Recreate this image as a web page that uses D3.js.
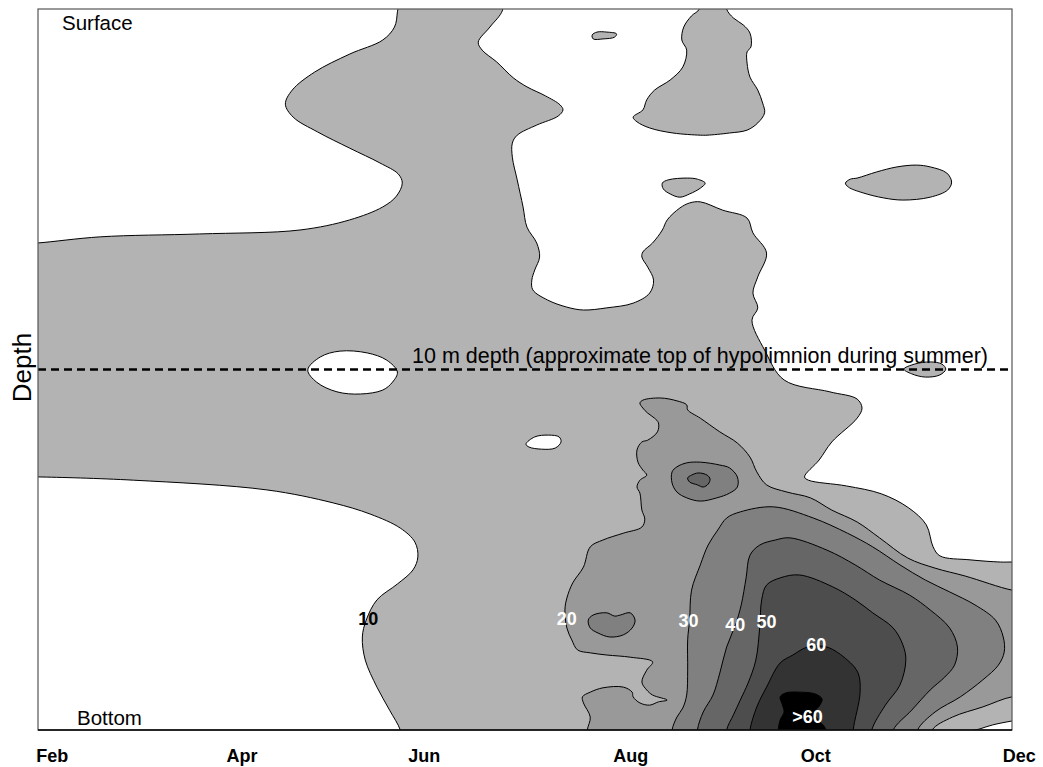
<!DOCTYPE html>
<html>
<head>
<meta charset="utf-8">
<script src="https://cdn.jsdelivr.net/npm/d3@7"></script>
<style>
  body { margin: 0; background: #fff; }
  svg { display: block; }
  text { font-family: "Liberation Sans", Arial, Helvetica, sans-serif; }
</style>
</head>
<body>
<svg id="chart" width="1043" height="767"></svg>
<script>
// ---- axes: time in months (Feb = 2 ... Dec = 12), depth as 0 (surface) to 20 (bottom) ----
const monthExtent = [2, 12];
const depthExtent = [0, 20];
const tickLabels = ["Feb", "Apr", "Jun", "Aug", "Oct", "Dec"];
const tickMonths = [2.14, 4.09, 5.96, 8.08, 9.98, 12.07];
const hypolimnionDepth = 10;

// ---- contour levels ----
const levelKeys = [0, 10, 20, 30, 40, 50, 60, 70];

// ---- contour rings, [month, depth] ----
// values below 10
const low_surfaceSpring = [[5.70,-0.5],[5.69,0.08],[5.66,0.5],[5.54,0.86],[5.20,1.25],[4.84,1.75],[4.61,2.25],[4.54,2.64],[4.62,3.0],[4.87,3.41],[5.20,3.86],[5.51,4.27],[5.70,4.58],[5.74,4.83],[5.68,5.19],[5.54,5.49],[5.20,5.85],[4.69,6.13],[3.66,6.24],[2.64,6.32],[2.0,6.49],[1.79,6.52],[1.79,-0.5]];
const low_surfaceSummer = [[6.77,-0.5],[6.77,0.03],[6.64,0.50],[6.52,0.92],[6.56,1.14],[6.71,1.47],[6.88,1.91],[7.02,2.16],[7.21,2.41],[7.36,2.66],[7.39,2.80],[7.34,2.97],[7.12,3.22],[6.92,3.50],[6.87,3.72],[6.87,4.11],[6.92,4.74],[6.98,5.49],[7.02,6.05],[7.12,6.49],[7.15,6.88],[7.10,7.24],[7.07,7.52],[7.08,7.79],[7.23,8.07],[7.43,8.27],[7.60,8.35],[7.84,8.29],[8.11,8.16],[8.28,7.88],[8.32,7.52],[8.26,7.16],[8.20,6.88],[8.21,6.74],[8.31,6.49],[8.41,6.13],[8.46,5.85],[8.59,5.52],[8.69,5.38],[8.80,5.35],[9.03,5.58],[9.28,5.80],[9.34,6.21],[9.48,6.77],[9.39,7.43],[9.34,7.88],[9.39,8.29],[9.33,8.63],[9.46,9.46],[9.66,10.29],[10.13,10.62],[10.41,10.82],[10.46,11.07],[10.41,11.35],[10.15,12.01],[10.02,12.51],[9.87,12.98],[9.91,13.07],[10.30,13.23],[10.66,13.45],[10.94,13.84],[11.12,14.31],[11.19,14.92],[11.26,15.17],[11.57,15.28],[11.88,15.34],[12.0,15.34],[12.19,15.34],[12.19,-0.5],[9.07,-0.5],[9.07,0],[9.14,0.25],[9.24,0.44],[9.31,0.67],[9.32,1.05],[9.28,1.19],[9.28,1.50],[9.31,1.89],[9.39,2.25],[9.44,2.61],[9.46,2.88],[9.39,3.16],[9.28,3.36],[9.10,3.44],[8.87,3.50],[8.80,3.50],[8.52,3.44],[8.28,3.30],[8.15,3.13],[8.11,3.00],[8.21,2.80],[8.25,2.52],[8.33,2.25],[8.49,1.97],[8.62,1.61],[8.66,1.14],[8.61,0.86],[8.63,0.50],[8.71,0.19],[8.79,0],[8.79,-0.5]];
const low_bottomSpring = [[1.79,12.98],[2.0,12.98],[2.98,13.07],[4.35,13.34],[5.03,13.70],[5.41,14.01],[5.72,14.40],[5.87,14.79],[5.90,15.20],[5.85,15.56],[5.69,15.95],[5.48,16.39],[5.37,16.95],[5.33,17.42],[5.36,18.06],[5.48,18.81],[5.61,19.45],[5.72,20.0],[5.75,20.42],[1.79,20.42]];
const low_pocketMay = [[4.77,10.01],[4.90,9.65],[5.10,9.49],[5.38,9.54],[5.58,9.74],[5.69,10.07],[5.64,10.35],[5.54,10.57],[5.31,10.68],[5.07,10.62],[4.86,10.35]];
const low_pocketJuly = [[7.01,12.07],[7.10,11.87],[7.24,11.82],[7.35,11.87],[7.37,12.01],[7.31,12.18],[7.17,12.21],[7.04,12.15]];
const low_cornerDec = [[11.57,20.06],[11.67,19.97],[11.80,19.86],[12.0,19.75],[12.19,19.67],[12.19,20.42],[11.57,20.42]];

// patches of 10+ inside the low areas
const p10_surfaceJuly = [[7.69,0.72],[7.74,0.64],[7.84,0.64],[7.94,0.69],[7.92,0.78],[7.80,0.83],[7.70,0.83]];
const p10_aug = [[8.41,4.83],[8.47,4.74],[8.67,4.69],[8.77,4.72],[8.85,4.83],[8.80,4.97],[8.69,5.13],[8.59,5.22],[8.49,5.13],[8.42,4.99]];
const p10_nov = [[10.29,4.83],[10.34,4.72],[10.41,4.69],[10.61,4.52],[10.82,4.38],[11.02,4.33],[11.16,4.38],[11.33,4.55],[11.38,4.80],[11.34,5.02],[11.16,5.22],[10.88,5.30],[10.68,5.24],[10.47,5.10],[10.32,4.94]];
const p10_novDeep = [[10.89,9.99],[11.00,9.85],[11.16,9.79],[11.28,9.85],[11.32,9.99],[11.26,10.15],[11.11,10.21],[10.97,10.12]];

// 20 and above
const band20 = [[7.64,20.42],[7.64,20.0],[7.67,19.64],[7.60,19.25],[7.59,19.08],[7.67,18.95],[7.80,18.83],[8.01,18.81],[8.10,18.95],[8.11,19.08],[8.18,19.25],[8.28,19.31],[8.37,19.22],[8.46,19.17],[8.31,19.03],[8.25,18.89],[8.20,18.67],[8.25,18.34],[8.31,18.11],[8.08,17.98],[7.84,17.92],[7.67,17.86],[7.54,17.78],[7.48,17.50],[7.43,17.17],[7.41,16.67],[7.43,16.34],[7.49,15.92],[7.60,15.48],[7.67,14.92],[7.80,14.73],[8.01,14.54],[8.20,14.37],[8.23,14.15],[8.20,13.90],[8.18,13.43],[8.15,13.26],[8.18,13.07],[8.25,12.93],[8.21,12.79],[8.16,12.57],[8.15,12.23],[8.20,12.01],[8.26,11.96],[8.36,11.73],[8.37,11.48],[8.33,11.35],[8.26,11.21],[8.21,11.07],[8.18,10.93],[8.21,10.85],[8.39,10.79],[8.56,10.87],[8.66,10.98],[8.67,11.12],[8.80,11.35],[9.00,11.73],[9.18,12.04],[9.31,12.43],[9.38,12.84],[9.48,13.20],[9.69,13.40],[9.93,13.56],[10.15,13.90],[10.41,14.23],[10.64,14.67],[10.93,15.23],[11.21,15.51],[11.52,15.73],[12.0,16.12],[12.19,16.17],[12.19,19.08],[12.0,19.08],[11.70,19.36],[11.39,19.64],[11.18,20.0],[11.16,20.42]];
const core30 = [[8.51,20.42],[8.51,20.0],[8.56,19.64],[8.62,19.39],[8.66,19.03],[8.67,18.34],[8.67,17.50],[8.69,16.95],[8.71,16.12],[8.80,15.42],[8.88,14.87],[8.98,14.45],[9.07,14.12],[9.21,13.95],[9.55,13.81],[9.96,14.12],[10.31,14.54],[10.57,14.92],[10.85,15.42],[11.11,15.84],[11.36,16.17],[11.62,16.53],[11.83,16.95],[11.91,17.42],[11.92,17.84],[11.86,18.20],[11.70,18.61],[11.47,19.08],[11.21,19.50],[11.03,20.0],[11.01,20.42]];
const patch30_jul = [[7.65,16.95],[7.70,16.81],[7.84,16.75],[7.92,16.84],[7.98,16.81],[8.08,16.75],[8.13,16.95],[8.10,17.17],[8.01,17.36],[7.87,17.42],[7.75,17.31],[7.67,17.17]];
const patch30_aug = [[8.51,12.84],[8.56,12.70],[8.66,12.59],[8.80,12.57],[9.00,12.65],[9.10,12.73],[9.18,12.98],[9.18,13.26],[9.10,13.43],[8.97,13.56],[8.80,13.65],[8.66,13.56],[8.56,13.40],[8.51,13.15]];
const core40 = [[8.77,20.42],[8.77,20.0],[8.83,19.50],[8.93,19.03],[9.00,18.42],[9.07,17.70],[9.16,17.09],[9.22,16.53],[9.27,15.78],[9.31,15.15],[9.41,14.87],[9.57,14.73],[9.72,14.67],[10.10,15.01],[10.39,15.42],[10.64,15.84],[10.95,16.26],[11.16,16.67],[11.36,17.17],[11.44,17.70],[11.41,18.20],[11.31,18.53],[11.16,18.89],[10.97,19.45],[10.78,20.0],[10.76,20.42]];
const patch40_aug = [[8.67,13.01],[8.71,12.93],[8.78,12.87],[8.87,12.93],[8.90,13.04],[8.88,13.18],[8.83,13.26],[8.77,13.20],[8.69,13.12]];
const core50 = [[9.07,20.42],[9.07,20.0],[9.14,19.58],[9.21,19.17],[9.29,18.70],[9.37,18.06],[9.41,17.14],[9.43,16.39],[9.48,15.98],[9.62,15.78],[9.82,15.70],[10.16,16.03],[10.39,16.39],[10.57,16.75],[10.78,17.17],[10.88,17.64],[10.91,18.06],[10.85,18.75],[10.70,19.31],[10.56,20.0],[10.55,20.42]];
const core60 = [[9.31,20.42],[9.31,20.0],[9.38,19.36],[9.48,18.81],[9.62,18.14],[9.75,17.92],[9.90,17.70],[10.10,17.70],[10.31,18.06],[10.42,18.42],[10.44,18.97],[10.37,20.0],[10.37,20.42]];
const corePeak = [[9.60,20.42],[9.60,20.0],[9.62,19.72],[9.66,19.50],[9.64,19.28],[9.62,19.08],[9.68,18.97],[9.82,18.95],[9.98,19.00],[10.05,19.14],[10.02,19.34],[9.97,19.50],[10.01,19.72],[10.08,19.94],[10.09,20.42]];

// contour labels
const labelText  = ["10", "20", "30", "40", "50", "60", ">60"];
const labelLevel = [10, 20, 30, 40, 50, 60, 70];
const labelMonth = [5.39, 7.43, 8.68, 9.16, 9.48, 9.99, 9.90];
const labelDepth = [16.92, 16.92, 16.98, 17.09, 17.01, 17.64, 19.64];

// drawing order: lowest values first, then each higher band on top
const layers = [
  { level: 0, ring: low_surfaceSpring },
  { level: 0, ring: low_surfaceSummer },
  { level: 0, ring: low_bottomSpring },
  { level: 0, ring: low_pocketMay },
  { level: 0, ring: low_pocketJuly },
  { level: 0, ring: low_cornerDec },
  { level: 10, ring: p10_surfaceJuly },
  { level: 10, ring: p10_aug },
  { level: 10, ring: p10_nov },
  { level: 10, ring: p10_novDeep },
  { level: 20, ring: band20 },
  { level: 30, ring: core30 },
  { level: 30, ring: patch30_jul },
  { level: 30, ring: patch30_aug },
  { level: 40, ring: core40 },
  { level: 40, ring: patch40_aug },
  { level: 50, ring: core50 },
  { level: 60, ring: core60 },
  { level: 70, ring: corePeak }
];

// ---- drawing ----
const plot = { left: 38, right: 1012, top: 9, bottom: 730 };

const svg = d3.select("#chart");
const x = d3.scaleLinear().domain(monthExtent).range([plot.left, plot.right]);
const y = d3.scaleLinear().domain(depthExtent).range([plot.top, plot.bottom]);
const fill = d3.scaleOrdinal()
  .domain(levelKeys)
  .range(["#ffffff", "#b3b3b3", "#999999", "#808080", "#666666", "#4d4d4d", "#333333", "#000000"]);

svg.append("defs").append("clipPath").attr("id", "plot-clip")
  .append("rect")
  .attr("x", x(monthExtent[0])).attr("y", y(depthExtent[0]))
  .attr("width", x(monthExtent[1]) - x(monthExtent[0]))
  .attr("height", y(depthExtent[1]) - y(depthExtent[0]));

const field = svg.append("g").attr("clip-path", "url(#plot-clip)");

// base band (10 and above) fills the whole section
field.append("rect")
  .attr("x", x(monthExtent[0])).attr("y", y(depthExtent[0]))
  .attr("width", x(monthExtent[1]) - x(monthExtent[0]))
  .attr("height", y(depthExtent[1]) - y(depthExtent[0]))
  .attr("fill", fill(10));

const ringPath = d3.line()
  .x(d => x(d[0]))
  .y(d => y(d[1]))
  .curve(d3.curveCatmullRomClosed.alpha(0.5));

field.selectAll("path.band")
  .data(layers)
  .join("path")
  .attr("class", "band")
  .attr("d", d => ringPath(d.ring))
  .attr("fill", d => fill(d.level))
  .attr("stroke", "#000")
  .attr("stroke-width", 1)
  .attr("stroke-linejoin", "round");

// 10 m reference line
field.append("line")
  .attr("x1", x(monthExtent[0])).attr("x2", x(monthExtent[1]))
  .attr("y1", y(hypolimnionDepth)).attr("y2", y(hypolimnionDepth))
  .attr("stroke", "#000")
  .attr("stroke-width", 2.6)
  .attr("stroke-dasharray", "8,5");

svg.append("text")
  .attr("x", x(5.84))
  .attr("y", y(hypolimnionDepth) - 7)
  .attr("font-size", 21.5)
  .attr("fill", "#000")
  .text("10 m depth (approximate top of hypolimnion during summer)");

// contour labels
svg.append("g").selectAll("text")
  .data(labelText)
  .join("text")
  .attr("x", (d, i) => x(labelMonth[i]))
  .attr("y", (d, i) => y(labelDepth[i]))
  .attr("text-anchor", "middle")
  .attr("dominant-baseline", "central")
  .attr("font-size", 18)
  .attr("font-weight", "bold")
  .attr("fill", (d, i) => labelLevel[i] <= 10 ? "#000" : "#fff")
  .text(d => d);

// surface / bottom markers
svg.append("text").attr("x", 62).attr("y", 30).attr("font-size", 20.5).text("Surface");
svg.append("text").attr("x", 77).attr("y", 725).attr("font-size", 20.5).text("Bottom");

// y axis title
svg.append("text")
  .attr("transform", `translate(31,${(plot.top + plot.bottom) / 2 - 2}) rotate(-90)`)
  .attr("text-anchor", "middle")
  .attr("font-size", 26)
  .text("Depth");

// x axis (month labels only)
const xAxis = d3.axisBottom(x)
  .tickValues(tickMonths)
  .tickFormat((d, i) => tickLabels[i])
  .tickSize(0)
  .tickPadding(19);

const ax = svg.append("g")
  .attr("transform", `translate(0,${plot.bottom})`)
  .call(xAxis);
ax.select(".domain").remove();
ax.selectAll("text")
  .attr("font-size", 18)
  .attr("font-weight", "bold")
  .attr("font-family", "Liberation Sans, Arial, sans-serif")
  .attr("fill", "#000");

// frame
svg.append("rect")
  .attr("x", plot.left).attr("y", plot.top)
  .attr("width", plot.right - plot.left)
  .attr("height", plot.bottom - plot.top)
  .attr("fill", "none")
  .attr("stroke", "#555")
  .attr("stroke-width", 1.2);
svg.append("line")
  .attr("x1", plot.left).attr("x2", plot.right)
  .attr("y1", plot.bottom).attr("y2", plot.bottom)
  .attr("stroke", "#000")
  .attr("stroke-width", 1.6);
</script>
</body>
</html>
